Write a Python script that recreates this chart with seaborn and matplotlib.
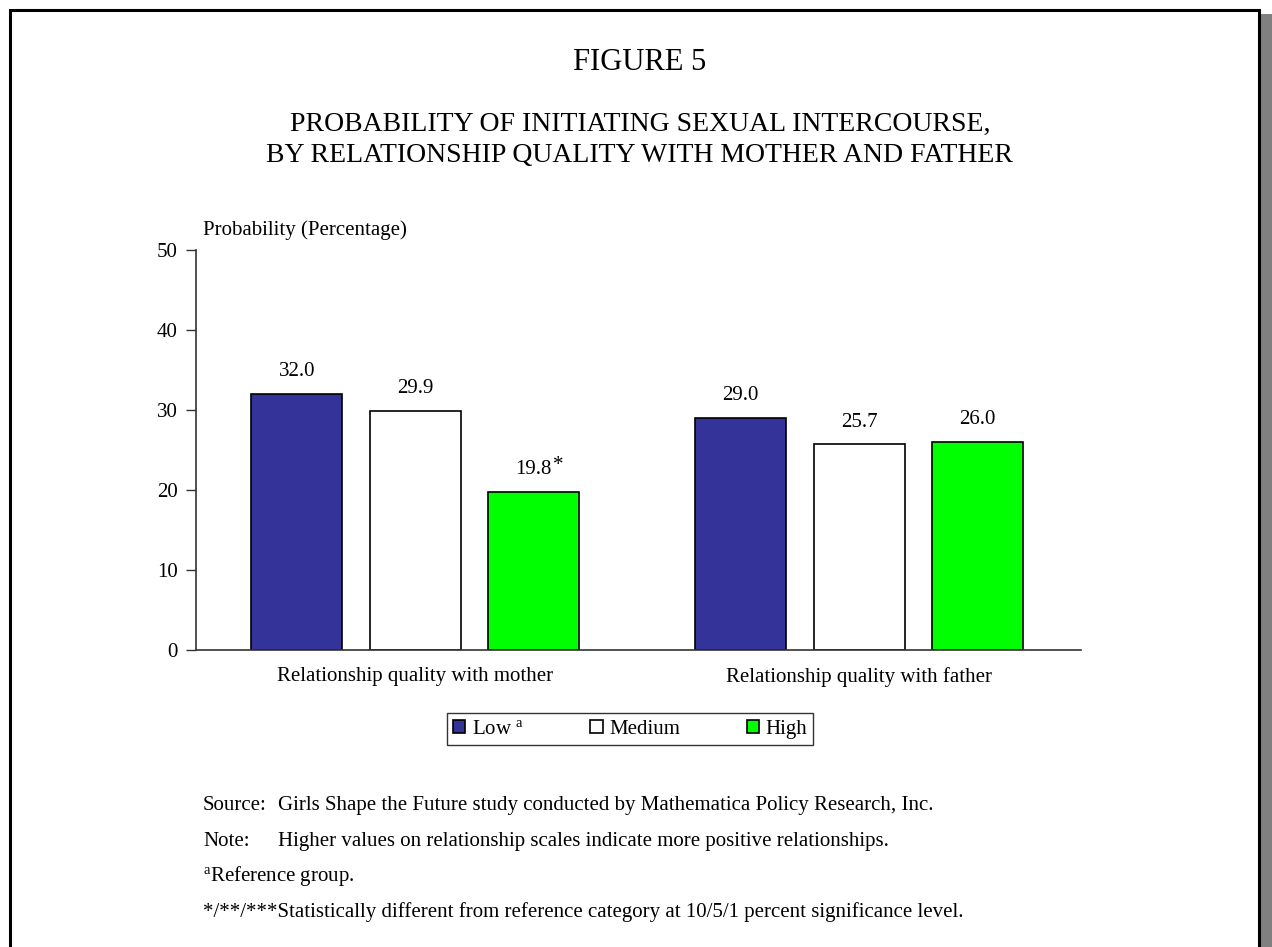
import matplotlib
matplotlib.use("Agg")
import matplotlib.pyplot as plt
import matplotlib.patches as mpatches
import seaborn as sns
import pandas as pd

# Data
groups = ["Relationship quality with mother", "Relationship quality with father"]
levels = ["Low", "Medium", "High"]
low_vals = [32.0, 29.0]
medium_vals = [29.9, 25.7]
high_vals = [19.8, 26.0]
significance = [["", "", "*"], ["", "", ""]]
yticks = [0, 10, 20, 30, 40, 50]

colors = {"Low": "#333399", "Medium": "#FFFFFF", "High": "#00FF00"}

rows = []
for gi, g in enumerate(groups):
    for lvl, vals in zip(levels, [low_vals, medium_vals, high_vals]):
        rows.append({"group": g, "level": lvl, "value": vals[gi]})
df = pd.DataFrame(rows)

sns.set_style("white")
plt.rcParams["font.family"] = ["Liberation Serif", "DejaVu Serif"]
plt.rcParams["mathtext.fontset"] = "custom"
plt.rcParams["mathtext.rm"] = "Liberation Serif"
plt.rcParams["mathtext.it"] = "Liberation Serif:italic"
plt.rcParams["text.color"] = "black"
plt.rcParams["xtick.color"] = "black"
plt.rcParams["ytick.color"] = "black"

W, H = 1272, 947
fig = plt.figure(figsize=(W / 100, H / 100), dpi=100)
fig.patch.set_facecolor("white")

# page frame with shadow
fig.patches.append(mpatches.Rectangle((1261 / W, 0), 11 / W, 1 - 14 / H,
                                      transform=fig.transFigure, facecolor="#808080",
                                      edgecolor="none", zorder=-10))
fig.patches.append(mpatches.Rectangle((10 / W, -0.01), 1249 / W, 1.01 - 10 / H,
                                      transform=fig.transFigure, facecolor="white",
                                      edgecolor="black", lw=2.2, zorder=-9))

ax = fig.add_axes([196 / W, 1 - 650 / H, (1081 - 196) / W, 400 / H])
ax.set_facecolor("none")
ax.set_zorder(5)

sns.barplot(data=df, x="group", y="value", hue="level", order=groups,
            hue_order=levels, palette=colors, saturation=1, edgecolor="black",
            linewidth=1.2, gap=0.23, width=0.8, errorbar=None, ax=ax, legend=True)

fs = 15
ax.set_xlim(-0.494, 1.5)
ax.set_ylim(0, 50)
ax.set_yticks(yticks)
ax.set_yticklabels([str(t) for t in yticks], fontsize=fs)
ax.set_xlabel("")
ax.set_ylabel("")
ax.tick_params(axis="x", length=0, labelsize=fs, pad=12)
ax.tick_params(axis="y", direction="out", length=7, width=1, color="#333333",
               left=True, labelsize=fs, pad=6)
for s in ["top", "right"]:
    ax.spines[s].set_visible(False)
for s in ["left", "bottom"]:
    ax.spines[s].set_color("#333333")
    ax.spines[s].set_linewidth(1.2)

# value labels
for li, cont in enumerate(ax.containers):
    for gi, bar in enumerate(cont):
        x = bar.get_x() + bar.get_width() / 2
        h = bar.get_height()
        ax.annotate(f"{h:.1f}", (x, h), xytext=(0, 9), textcoords="offset points",
                    ha="center", va="bottom", fontsize=fs)
        mark = significance[gi][li]
        if mark:
            ax.annotate(mark, (x, h), xytext=(14, 12), textcoords="offset points",
                        ha="left", va="bottom", fontsize=fs)

ax.text(0.008, 1.025, "Probability (Percentage)", transform=ax.transAxes,
        ha="left", va="bottom", fontsize=fs)

# legend
handles, _ = ax.get_legend_handles_labels()
ax.legend(handles, [r"Low $^{\mathrm{a}}$", "Medium", "High"], ncol=3,
          loc="center", bbox_to_anchor=(630 / W, 1 - 729 / H),
          bbox_transform=fig.transFigure, fontsize=fs, frameon=True,
          fancybox=False, edgecolor="black", handlelength=0.6, handleheight=0.6,
          handletextpad=0.3, columnspacing=3.2, borderpad=0.3, borderaxespad=0)
ax.get_legend().get_frame().set_linewidth(1.0)

# titles
fig.text(640 / W, 1 - 62 / H, "FIGURE 5", ha="center", va="center", fontsize=22)
fig.text(640 / W, 1 - 140 / H,
         "PROBABILITY OF INITIATING SEXUAL INTERCOURSE,\nBY RELATIONSHIP QUALITY WITH MOTHER AND FATHER",
         ha="center", va="center", fontsize=20, linespacing=1.3)

# footnotes
fig.text(203 / W, 1 - 805 / H, "Source:", ha="left", va="center", fontsize=fs)
fig.text(278 / W, 1 - 805 / H,
         "Girls Shape the Future study conducted by Mathematica Policy Research, Inc.",
         ha="left", va="center", fontsize=fs)
fig.text(203 / W, 1 - 841 / H, "Note:", ha="left", va="center", fontsize=fs)
fig.text(278 / W, 1 - 841 / H,
         "Higher values on relationship scales indicate more positive relationships.",
         ha="left", va="center", fontsize=fs)
fig.text(203 / W, 1 - 876 / H, r"$^{\mathrm{a}}$Reference group.",
         ha="left", va="center", fontsize=fs)
fig.text(203 / W, 1 - 912 / H,
         "*/**/***Statistically different from reference category at 10/5/1 percent significance level.",
         ha="left", va="center", fontsize=fs)

fig.savefig("out.png", dpi=100)
